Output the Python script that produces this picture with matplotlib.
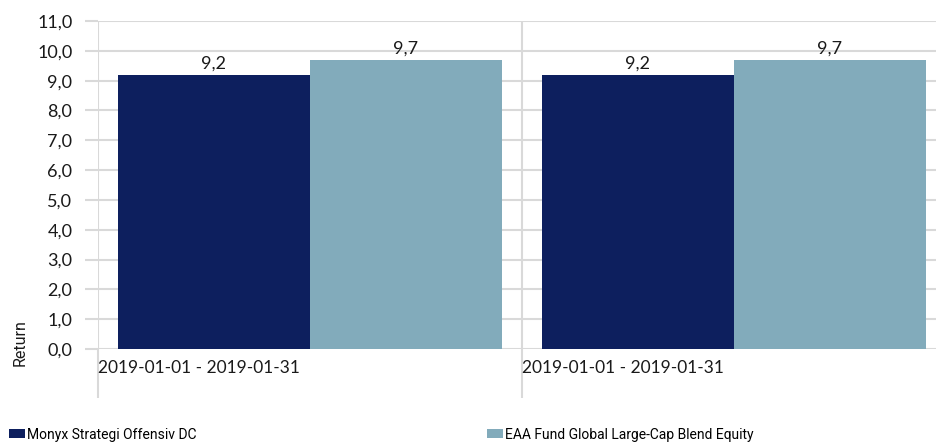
import matplotlib
matplotlib.use('Agg')
import matplotlib.pyplot as plt
from matplotlib import font_manager
import numpy as np

# --- DATOS ---
categorias = ['2019-01-01 - 2019-01-31', '2019-01-01 - 2019-01-31']
serie_fondo = [9.2, 9.2]
serie_indice = [9.7, 9.7]
nombres = ['Monyx Strategi Offensiv DC', 'EAA Fund Global Large-Cap Blend Equity']
colores = ['#0D1F5E', '#82ABBB']
y_ticks = np.arange(0, 11.1, 1.0)

GRIS = '#D9D9D9'
FUENTE_NUM = ['Lato', 'DejaVu Sans']

# fuente estrecha para leyenda y titulo del eje (si hay alguna)
disponibles = {f.name for f in font_manager.fontManager.ttflist}
if 'Liberation Sans Narrow' in disponibles:
    PROP_COND = dict(family='Liberation Sans Narrow')
    TAM_LEY, TAM_RET = 12, 12
else:
    PROP_COND = dict(family='Roboto')
    TAM_LEY, TAM_RET = 10, 11.5

fig = plt.figure(figsize=(9.37, 4.42), dpi=100)
ax = fig.add_axes([98 / 937, 1 - 349 / 442, 848 / 937, 328 / 442])

x = np.arange(len(categorias))
ancho = 0.452
b1 = ax.bar(x - 0.2265, serie_fondo, ancho, color=colores[0], zorder=3)
b2 = ax.bar(x + 0.2265, serie_indice, ancho, color=colores[1], zorder=3)

for barras, vals in [(b1, serie_fondo), (b2, serie_indice)]:
    for rect, v in zip(barras, vals):
        ax.annotate(f'{v:.1f}'.replace('.', ','), (rect.get_x() + rect.get_width() / 2, v),
                    xytext=(0, 2.5), textcoords='offset points', ha='center', va='bottom',
                    fontsize=13, family=FUENTE_NUM, color='#1a1a1a')

ax.set_xlim(-0.5, len(categorias) - 0.5)
ax.set_ylim(0, 11)
ax.set_yticks(y_ticks)
ax.set_yticklabels([f'{t:.1f}'.replace('.', ',') for t in y_ticks], family=FUENTE_NUM, fontsize=13)
ax.tick_params(axis='y', length=9.4, width=1.5, color=GRIS, pad=9, labelcolor='#1a1a1a')
ax.grid(axis='y', color=GRIS, linewidth=1.5, zorder=0)

# separadores de categoria
bordes = np.arange(len(categorias)) - 0.5
ax.set_xticks(bordes)
ax.set_xticklabels(categorias, ha='left', family=FUENTE_NUM, fontsize=12.5)
ax.tick_params(axis='x', length=35, width=1.5, color=GRIS, pad=-27, labelcolor='#1a1a1a')
for b in bordes:
    ax.axvline(b, color=GRIS, linewidth=1.5, zorder=0)

for s in ax.spines.values():
    s.set_visible(False)

fig.text(20 / 937, 1 - 343 / 442, 'Return', rotation=90, ha='center', va='center',
         fontsize=TAM_RET, color='#1a1a1a', **PROP_COND)

prop = dict(PROP_COND, size=TAM_LEY)
kw = dict(frameon=False, handlelength=1.15, handleheight=0.55,
          handletextpad=0.15, borderaxespad=0, borderpad=0, prop=prop)
fig.legend(handles=[b1], labels=[nombres[0]], loc='center left',
           bbox_to_anchor=(9 / 937, 1 - 434.5 / 442), **kw)
fig.legend(handles=[b2], labels=[nombres[1]], loc='center left',
           bbox_to_anchor=(487 / 937, 1 - 434.5 / 442), **kw)

fig.savefig('out.png', dpi=100)
